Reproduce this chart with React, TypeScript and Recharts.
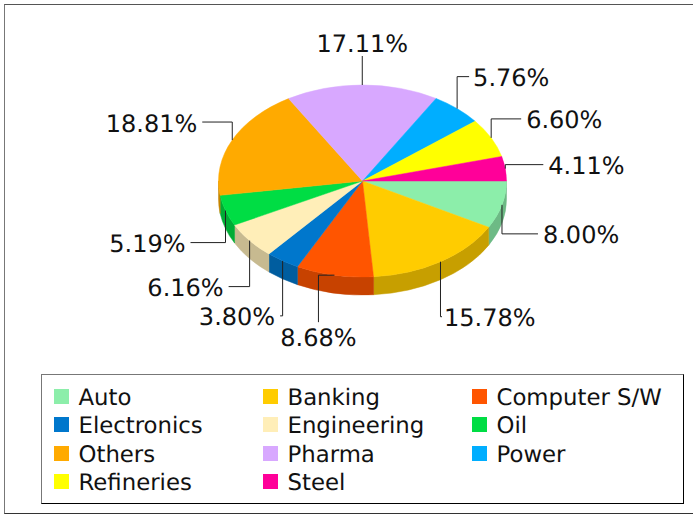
import { Legend, Pie, PieChart } from "recharts";

const sectors = ["Auto", "Banking", "Computer S/W", "Electronics", "Engineering", "Oil", "Others", "Pharma", "Power", "Refineries", "Steel"];
const shares = [8.0, 15.78, 8.68, 3.8, 6.16, 5.19, 18.81, 17.11, 5.76, 6.6, 4.11];
const colors = ["#8CEEAA", "#FFCC00", "#FF5500", "#0077CC", "#FFEEB8", "#00DD44", "#FFAA00", "#D8A8FF", "#00AEFF", "#FFFF00", "#FF0099"];

// leader line bends, as offsets from the point where it leaves the pie edge
const leaderBends = [
  [[0, 29], [36, 29]],
  [[0, 55], [1.5, 55]],
  [[-16, 0], [-16, 47]],
  [[0, 55], [-2.5, 55]],
  [[0, 46], [-21, 46]],
  [[0, 32], [-35, 32]],
  [[0, -18], [-30, -18]],
  [[0, -29]],
  [[0, -32], [12, -32]],
  [[0, -19], [30, -19]],
  [[0, -4], [38, -4]],
];
// gap between the end of the leader and its text
const labelGaps = [5, 2, 0, 5, 5, 5, 5, 0, 4, 5, 5];

const chartData = sectors.map((name, i) => ({ name, value: shares[i], fill: colors[i] }));

const SQUASH = 2 / 3;
const DEPTH = 18;
const rad = Math.PI / 180;
const LABEL_FONT = "'DejaVu Sans', sans-serif";

function edgePoint(cx: number, cy: number, r: number, deg: number) {
  return [cx + r * Math.cos(deg * rad), cy + r * SQUASH * Math.sin(deg * rad)];
}

function darken(hex: string, k: number) {
  const n = parseInt(hex.slice(1), 16);
  const ch = [(n >> 16) & 255, (n >> 8) & 255, n & 255].map((v) => Math.round(v * k));
  return `rgb(${ch.join(",")})`;
}

// recharts angles run counter-clockwise, so screen angle = -angle
function TopSlice(props: any) {
  const { cx, cy, outerRadius: r, startAngle, endAngle, fill } = props;
  const a0 = -startAngle;
  const a1 = -endAngle;
  const [x0, y0] = edgePoint(cx, cy, r, a0);
  const [x1, y1] = edgePoint(cx, cy, r, a1);
  const large = a1 - a0 > 180 ? 1 : 0;
  const d = `M${cx},${cy}L${x0},${y0}A${r},${r * SQUASH} 0 ${large} 1 ${x1},${y1}Z`;
  return <path d={d} fill={fill} stroke={fill} strokeWidth={0.5} />;
}

function WallSlice(props: any) {
  const { cx, cy, outerRadius: r, startAngle, endAngle, fill } = props;
  const a0 = Math.max(-startAngle, 0);
  const a1 = Math.min(-endAngle, 180);
  if (a1 <= a0) return <g />;
  const [x0, y0] = edgePoint(cx, cy, r, a0);
  const [x1, y1] = edgePoint(cx, cy, r, a1);
  const ry = r * SQUASH;
  const d = `M${x0},${y0}A${r},${ry} 0 0 1 ${x1},${y1}L${x1},${y1 + DEPTH}A${r},${ry} 0 0 0 ${x0},${y0 + DEPTH}Z`;
  const wall = darken(fill, 0.78);
  return <path d={d} fill={wall} stroke={wall} strokeWidth={0.5} />;
}

function LeaderLabel(props: any) {
  const { cx, cy, outerRadius, midAngle, index } = props;
  const [ax, ay] = edgePoint(cx, cy, outerRadius, -midAngle);
  const bends = leaderBends[index];
  const pts = [[ax, ay], ...bends.map(([dx, dy]) => [ax + dx, ay + dy])];
  const [ex, ey] = pts[pts.length - 1];
  const [px] = pts[pts.length - 2];
  const text = `${shares[index].toFixed(2)}%`;
  const gap = labelGaps[index];
  let tx = ex;
  let ty = ey + 9.5;
  let anchor: "start" | "middle" | "end" = "start";
  if (Math.abs(ex - px) < 0.01) {
    // line ends going straight up or down: text is centred on it
    anchor = "middle";
    ty = ey > ay ? ey + 23.5 : ey - 4;
  } else if (ex < px) {
    anchor = "end";
    tx = ex - gap;
  } else {
    tx = ex + gap;
  }
  return (
    <g>
      <polyline points={pts.map((p) => p.join(",")).join(" ")} fill="none" stroke="#222" strokeWidth={1} />
      <text
        x={tx}
        y={ty}
        textAnchor={anchor}
        fontFamily={LABEL_FONT}
        fontSize={24}
        fill="#111"
        style={{ textRendering: "geometricPrecision" }}
      >
        {text}
      </text>
    </g>
  );
}

function LegendBox({ payload }: any) {
  // both pie layers report the same slices, keep each name once
  const entries = (payload || []).filter(
    (e: any, i: number, all: any[]) => all.findIndex((o) => o.value === e.value) === i,
  );
  return (
    <div
      style={{
        boxSizing: "border-box",
        width: 643,
        height: 130,
        background: "#fff",
        borderTop: "1px solid #777",
        borderLeft: "1px solid #777",
        borderRight: "1px solid #000",
        borderBottom: "1px solid #000",
        position: "relative",
        fontFamily: LABEL_FONT,
        fontSize: 22.8,
        color: "#111",
        textRendering: "geometricPrecision",
      }}
    >
      {entries.map((entry: any, i: number) => {
        const col = i % 3;
        const row = Math.floor(i / 3);
        const left = [12, 221, 430][col];
        const top = 13.5 + row * 28.6;
        return (
          <div key={entry.value} style={{ position: "absolute", left, top, height: 15, whiteSpace: "nowrap" }}>
            <span style={{ position: "absolute", left: 0, top: 0, width: 15, height: 15, background: entry.color }} />
            <span style={{ position: "absolute", left: 24.5, top: -4, lineHeight: "26px" }}>{entry.value}</span>
          </div>
        );
      })}
    </div>
  );
}

export default function App() {
  return (
    <div style={{ position: "absolute", left: 0, top: 0, width: 699, height: 514, background: "#fff" }}>
      <div
        style={{
          position: "absolute",
          left: 4,
          top: 4,
          width: 689,
          height: 510,
          boxSizing: "border-box",
          borderTop: "1px solid #555",
          borderLeft: "1px solid #777",
          borderBottom: "1px solid #333",
        }}
      />
      <div style={{ position: "absolute", left: 0, top: 0 }}>
        <PieChart width={699} height={514} margin={{ top: 0, right: 0, bottom: 0, left: 0 }}>
          <Pie
            data={chartData}
            dataKey="value"
            nameKey="name"
            cx={362.5}
            cy={181}
            outerRadius={144}
            startAngle={0}
            endAngle={-360}
            stroke="none"
            legendType="none"
            shape={WallSlice}
            isAnimationActive={false}
          />
          <Pie
            data={chartData}
            dataKey="value"
            nameKey="name"
            cx={362.5}
            cy={181}
            outerRadius={144}
            startAngle={0}
            endAngle={-360}
            stroke="none"
            shape={TopSlice}
            label={LeaderLabel}
            labelLine={false}
            isAnimationActive={false}
          />
          <Legend content={LegendBox} wrapperStyle={{ left: 41, top: 374, width: 643, height: 130, bottom: "auto" }} />
        </PieChart>
      </div>
    </div>
  );
}
